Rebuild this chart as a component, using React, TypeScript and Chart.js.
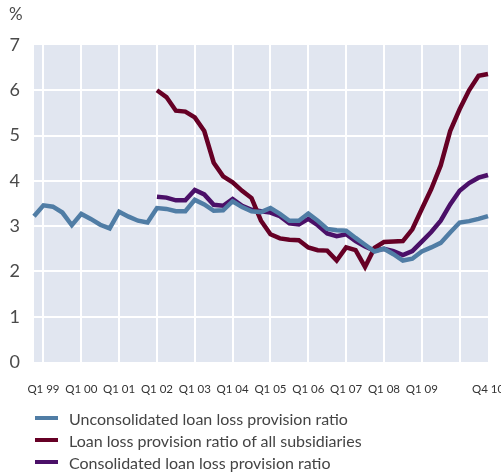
import React, { useEffect, useRef } from "react";
import { Chart, registerables } from "chart.js";

Chart.register(...registerables);

const quarters = [
  "Q4 98",
  "Q1 99", "Q2 99", "Q3 99", "Q4 99",
  "Q1 00", "Q2 00", "Q3 00", "Q4 00",
  "Q1 01", "Q2 01", "Q3 01", "Q4 01",
  "Q1 02", "Q2 02", "Q3 02", "Q4 02",
  "Q1 03", "Q2 03", "Q3 03", "Q4 03",
  "Q1 04", "Q2 04", "Q3 04", "Q4 04",
  "Q1 05", "Q2 05", "Q3 05", "Q4 05",
  "Q1 06", "Q2 06", "Q3 06", "Q4 06",
  "Q1 07", "Q2 07", "Q3 07", "Q4 07",
  "Q1 08", "Q2 08", "Q3 08", "Q4 08",
  "Q1 09", "Q2 09", "Q3 09", "Q4 09",
  "Q1 10", "Q2 10", "Q3 10", "Q4 10",
];

const shownTicks = [
  "Q1 99", "Q1 00", "Q1 01", "Q1 02", "Q1 03", "Q1 04",
  "Q1 05", "Q1 06", "Q1 07", "Q1 08", "Q1 09", "Q4 10",
];

const gridQuarters = [
  "Q1 99", "Q1 00", "Q1 01", "Q1 02", "Q1 03", "Q1 04",
  "Q1 05", "Q1 06", "Q1 07", "Q1 08", "Q1 09", "Q1 10",
];

const yMin = 0;
const yMax = 7;
const yStep = 1;

const unconsolidated = [
  3.22,
  3.46, 3.43, 3.30, 3.02,
  3.27, 3.16, 3.03, 2.95,
  3.32, 3.21, 3.12, 3.08,
  3.40, 3.38, 3.33, 3.33,
  3.58, 3.48, 3.34, 3.35,
  3.55, 3.42, 3.33, 3.31,
  3.40, 3.27, 3.12, 3.12,
  3.28, 3.12, 2.94, 2.91,
  2.90, 2.74, 2.59, 2.44,
  2.50, 2.38, 2.24, 2.28,
  2.44, 2.53, 2.63, 2.86,
  3.08, 3.11, 3.16, 3.22,
];

const allSubsidiaries = [
  null,
  null, null, null, null,
  null, null, null, null,
  null, null, null, null,
  6.00, 5.85, 5.55, 5.53,
  5.40, 5.10, 4.40, 4.10,
  3.97, 3.78, 3.62, 3.12,
  2.82, 2.73, 2.70, 2.69,
  2.53, 2.47, 2.46, 2.24,
  2.53, 2.47, 2.10, 2.52,
  2.65, 2.66, 2.67, 2.93,
  3.38, 3.82, 4.34, 5.10,
  5.58, 6.00, 6.32, 6.36,
];

const consolidated = [
  null,
  null, null, null, null,
  null, null, null, null,
  null, null, null, null,
  3.65, 3.63, 3.57, 3.57,
  3.80, 3.70, 3.47, 3.45,
  3.60, 3.45, 3.36, 3.33,
  3.30, 3.22, 3.06, 3.04,
  3.16, 3.02, 2.84, 2.78,
  2.82, 2.67, 2.55, 2.46,
  2.50, 2.45, 2.36, 2.45,
  2.66, 2.87, 3.12, 3.48,
  3.78, 3.95, 4.07, 4.13,
];

const seriesNames = [
  "Unconsolidated loan loss provision ratio",
  "Loan loss provision ratio of all subsidiaries",
  "Consolidated loan loss provision ratio",
];
const seriesColors = ["#507DA5", "#660025", "#4B1068"];
const seriesData = [unconsolidated, allSubsidiaries, consolidated];
const unitLabel = "%";

const FONT = "Lato, 'Open Sans', sans-serif";

const bgPlugin = {
  id: "plotBg",
  beforeDraw(chart: any) {
    const { ctx, chartArea: a } = chart;
    ctx.save();
    ctx.fillStyle = "#E1E6F0";
    ctx.fillRect(a.left, a.top, a.right - a.left, a.bottom - a.top);
    ctx.restore();
  },
};

export default function App() {
  const canvasRef = useRef<HTMLCanvasElement | null>(null);

  useEffect(() => {
    const canvas = canvasRef.current;
    if (!canvas) return;
    const chart = new Chart(canvas, {
      type: "line",
      data: {
        labels: quarters,
        datasets: seriesData.map((d, i) => ({
          label: seriesNames[i],
          data: d,
          borderColor: seriesColors[i],
          backgroundColor: seriesColors[i],
          borderWidth: 4.5,
          pointRadius: 0,
          pointHoverRadius: 0,
          tension: 0,
          spanGaps: false,
          fill: false,
        })),
      },
      options: {
        responsive: false,
        animation: false,
        events: [],
        layout: { padding: { left: 0, top: 45, right: 13, bottom: 71 } },
        plugins: {
          legend: { display: false },
          tooltip: { enabled: false },
          title: { display: false },
        },
        scales: {
          x: {
            type: "category",
            offset: false,
            border: { display: false },
            grid: {
              drawTicks: false,
              lineWidth: 2,
              color: (ctx: any) =>
                gridQuarters.includes(quarters[ctx.index]) ? "#FFFFFF" : "rgba(0,0,0,0)",
            },
            ticks: {
              autoSkip: false,
              maxRotation: 0,
              minRotation: 0,
              padding: 20,
              color: "#333333",
              font: { family: FONT, size: 11.5 },
              callback: (_v: any, idx: number) =>
                shownTicks.includes(quarters[idx]) ? quarters[idx] : "",
            },
            afterFit: (scale: any) => {
              scale.height = 40;
              scale.paddingLeft = 0;
              scale.paddingRight = 0;
            },
          },
          y: {
            min: yMin,
            max: yMax,
            border: { display: false },
            grid: {
              drawTicks: false,
              lineWidth: 2,
              color: (ctx: any) => {
                const v = ctx.tick && ctx.tick.value;
                return v > yMin && v < yMax ? "#FFFFFF" : "rgba(0,0,0,0)";
              },
            },
            ticks: {
              stepSize: yStep,
              padding: 14,
              color: "#4A4A4A",
              font: { family: FONT, size: 18 },
            },
            afterFit: (scale: any) => {
              scale.width = 34;
            },
          },
        },
      },
      plugins: [bgPlugin],
    } as any);
    return () => chart.destroy();
  }, []);

  return (
    <div
      style={{
        position: "fixed",
        left: 0,
        top: 0,
        width: 501,
        height: 473,
        background: "#FFFFFF",
        fontFamily: FONT,
      }}
    >
      <canvas ref={canvasRef} width={501} height={473} style={{ display: "block" }} />
      <div
        style={{
          position: "absolute",
          left: 9,
          top: 4,
          fontSize: 17,
          color: "#4A4A4A",
          lineHeight: "20px",
        }}
      >
        {unitLabel}
      </div>
      <div style={{ position: "absolute", left: 35, top: 407 }}>
        {seriesNames.map((name, i) => (
          <div
            key={name}
            style={{
              display: "flex",
              alignItems: "center",
              height: 22,
              fontSize: 16,
              color: "#444444",
              whiteSpace: "nowrap",
            }}
          >
            <span
              style={{
                display: "inline-block",
                width: 23,
                height: 4,
                background: seriesColors[i],
                marginRight: 11,
              }}
            />
            <span>{name}</span>
          </div>
        ))}
      </div>
    </div>
  );
}
